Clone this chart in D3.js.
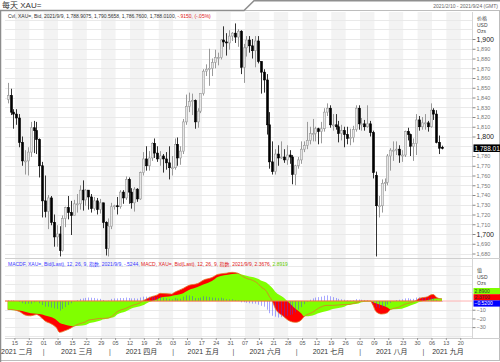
<!DOCTYPE html>
<html>
<head>
<meta charset="utf-8">
<script src="https://cdn.jsdelivr.net/npm/d3@7"></script>
<style>
  body { margin: 0; background: #fff; }
  svg { display: block; font-family: "Liberation Sans", "Noto Sans CJK SC", sans-serif; }
</style>
</head>
<body>
<div id="chart"></div>
<script>

// trading calendar shown on the axis
var firstDay = "2021-02-10";
var lastDay = "2021-09-24";

// daily candles XAU= from 2021-02-10 to 2021-09-09 (weekdays)
var openP = [1838,1842,1825,
  1823,1819,1794,1775,1775, 1784,1809,1806,1797,1770, 1734,1723,1737,1712,1697, 1700,1683,1716,1727,1722,
  1719,1731,1731,1745,1735, 1745,1738,1726,1734,1725, 1732,1712,1685,1708,1728, 1729,1728,1743,1737,1756,
  1743,1732,1746,1736,1763, 1777,1770,1778,1793,1783, 1777,1780,1777,1773,1768, 1768,1792,1778,1785,1815,
  1831,1836,1837,1815,1826, 1844,1867,1869,1870,1876, 1881,1881,1899,1897,1896, 1903,1906,1902,1908,1871,
  1891,1899,1893,1888,1898, 1877,1866,1858,1812,1774, 1764,1782,1778,1779,1776, 1781,1779,1761,1770,1776,
  1787,1791,1796,1803,1803, 1808,1805,1808,1825,1829, 1812,1812,1810,1803,1806, 1802,1798,1799,1807,1829,
  1813,1813,1810,1813,1804, 1760,1729,1729,1752,1753, 1780,1786,1786,1787,1781, 1781,1805,1802,1790,1793,
  1817,1810,1814,1814,1810, 1827,1823,1794,1788.9];
var highP = [1855,1849,1828,
  1828,1823,1800,1786,1789, 1815,1816,1815,1798,1774, 1760,1740,1739,1720,1709, 1708,1719,1728,1739,1734,
  1735,1741,1750,1755,1746, 1745,1741,1738,1737,1736, 1732,1713,1716,1732,1730, 1738,1745,1745,1759,1758,
  1747,1748,1747,1764,1784, 1790,1785,1794,1798,1790, 1785,1782,1784,1790,1780, 1798,1799,1790,1818,1843,
  1845,1844,1838,1829,1844, 1869,1874,1890,1880,1889, 1886,1900,1913,1906,1909, 1907,1916,1910,1909,1895,
  1903,1903,1900,1903,1903, 1877,1869,1864,1825,1795, 1787,1791,1795,1787,1791, 1786,1781,1771,1779,1795,
  1795,1815,1810,1818,1810, 1809,1815,1829,1834,1832, 1823,1823,1816,1812,1810, 1810,1808,1811,1832,1832,
  1819,1817,1832,1816,1806, 1764,1739,1756,1757,1782, 1788,1795,1795,1791,1786, 1806,1809,1803,1798,1823,
  1821,1820,1823,1816,1834, 1829,1827,1801,1790.6];
var lowP = [1834,1822,1808,
  1812,1789,1770,1761,1760, 1779,1783,1782,1758,1717, 1717,1705,1709,1687,1687, 1677,1682,1707,1715,1699,
  1719,1722,1725,1724,1729, 1725,1722,1724,1720,1721, 1706,1678,1677,1705,1725, 1720,1726,1731,1735,1731,
  1726,1723,1733,1735,1760, 1765,1765,1775,1778,1774, 1770,1763,1766,1756,1760, 1766,1770,1771,1782,1812,
  1825,1822,1808,1809,1824, 1842,1862,1852,1862,1870, 1873,1879,1892,1883,1889, 1898,1896,1892,1864,1855,
  1882,1886,1880,1871,1875, 1844,1845,1802,1767,1761, 1761,1770,1777,1773,1771, 1772,1751,1750,1767,1772,
  1784,1787,1792,1795,1795, 1792,1793,1805,1821,1809, 1806,1807,1794,1796,1789, 1792,1791,1794,1805,1807,
  1806,1806,1809,1800,1757, 1677,1717,1722,1744,1750, 1765,1775,1781,1773,1774, 1779,1796,1780,1775,1781,
  1806,1807,1807,1805,1809, 1817,1793,1782,1786.8];
var closeP = [1842,1825,1823,
  1819,1794,1775,1775,1784, 1809,1806,1797,1770,1734, 1723,1737,1712,1697,1700, 1683,1716,1727,1722,1719,
  1731,1731,1745,1735,1745, 1738,1726,1734,1725,1732, 1712,1685,1708,1728,1729, 1728,1743,1737,1756,1743,
  1732,1746,1736,1763,1777, 1770,1778,1793,1783,1777, 1780,1777,1773,1768,1768, 1792,1778,1785,1815,1831,
  1836,1837,1815,1826,1844, 1867,1869,1870,1876,1881, 1881,1899,1897,1896,1903, 1906,1902,1908,1871,1891,
  1899,1893,1888,1898,1877, 1866,1858,1812,1774,1764, 1782,1778,1779,1776,1781, 1779,1761,1770,1776,1787,
  1791,1796,1803,1803,1808, 1805,1808,1825,1829,1812, 1812,1810,1803,1806,1802, 1798,1799,1807,1829,1813,
  1813,1810,1813,1804,1763, 1729,1729,1752,1753,1780, 1786,1786,1787,1781,1781, 1805,1802,1790,1793,1817,
  1810,1814,1814,1810,1827, 1823,1794,1788,1788.01];

// MACDF histogram, one bar per candle
var histVals = [0.8,0.6,0.6,
  0.0,-1.0,-2.5,-3.5,-3.0, -3.0,-1.5,-0.5,-2.5,-4.5, -6.5,-6.5,-7.5,-8.5,-9, -11,-9,-7,-4.5,-2.5,
  -0.5,1.0,2.5,3.0,3.6, 4.0,3.8,3.5,2.8,2.5, 1.2,-0.3,0.5,2.5,3.0, 3.0,3.5,3.4,4.0,3.5,
  3.0,3.2,2.8,4.0,5.0, 5.0,5.0,5.2,5.0,4.5, 5.0,4.0,3.2,2.5,2.0, 3.5,2.6,2.7,5.0,6.5,
  6.4,5.7,3.5,3.4,4.0, 5.5,5.2,4.7,4.0,3.8, 3.2,3.8,3.0,2.2,2.0, 2.0,1.2,0.8,-1.5,-1.5,
  -2.0,-2.5,-3.0,-3.0,-4.2, -5.5,-6.5,-10,-14,-17, -18,-19,-18.5,-18,-17, -16,-15.5,-13,-10,-7,
  -3.5,-1,1.5,3.0,4.0, 4.5,5.0,6.0,6.5,5.5, 4.5,3.5,2.5,2.0,1.5, 0.8,0.5,0.8,2.2,1.8,
  1.5,1.2,1.0,0.5,-3.0, -7.0,-8.0,-7.5,-6.5,-4.0, -2.0,-0.5,1.0,1.5,2.0, 3.0,3.2,2.5,2.5,4.0,
  4.2,4.0,3.8,3.2,4.0, 3.5,1.2,-0.2,-0.52];

// MACD (12,26) and signal (9)
var macdDates = ["2021-02-10","2021-02-12","2021-02-16","2021-02-18","2021-02-22","2021-02-24","2021-02-26",
  "2021-03-01","2021-03-03","2021-03-05","2021-03-08","2021-03-10","2021-03-12","2021-03-15","2021-03-17",
  "2021-03-19","2021-03-22","2021-03-24","2021-03-26","2021-03-29","2021-03-31","2021-04-02","2021-04-05",
  "2021-04-08","2021-04-12","2021-04-15","2021-04-16","2021-04-19","2021-04-21","2021-04-23","2021-04-26",
  "2021-04-30","2021-05-03","2021-05-06","2021-05-10","2021-05-13","2021-05-17","2021-05-20","2021-05-24",
  "2021-05-27","2021-05-31","2021-06-02","2021-06-03","2021-06-07","2021-06-09","2021-06-11","2021-06-14",
  "2021-06-16","2021-06-17","2021-06-18","2021-06-21","2021-06-24","2021-06-28","2021-06-30","2021-07-02",
  "2021-07-05","2021-07-08","2021-07-12","2021-07-15","2021-07-19","2021-07-23","2021-07-26","2021-07-30",
  "2021-08-02","2021-08-05","2021-08-06","2021-08-09","2021-08-11","2021-08-13","2021-08-16","2021-08-19",
  "2021-08-23","2021-08-25","2021-08-27","2021-08-30","2021-09-02","2021-09-03","2021-09-06","2021-09-07",
  "2021-09-08","2021-09-09"];
var macdVals = [-9.5,-10,-12,-16,-17,-15.5,-20,
  -23,-26,-31,-36,-34,-31,-29,-26,
  -24,-22,-21,-20,-20,-19.5,-15.5,-12.5,
  -8.5,-5.5,-2,0,2,5,7,8.8,
  8,10,14.5,18,20,24,27,30.6,
  32,33,32,30,26,24,20,16.5,
  11,5,0,-8.4,-18,-23,-24.5,-22,
  -18,-13,-8.4,-5,-5,-4,-4,-1,
  0,0,-5,-12,-15,-13.5,-10,-7,
  -3.8,-2,0.5,3,5,7,7.5,4.5,
  2.8,2.37];
var signalVals = [-10.3,-10.5,-10.8,-12.2,-14,-14.6,-15.5,
  -16.5,-18.5,-22,-25,-27.2,-28.6,-29,-28.5,
  -27.6,-26,-24.5,-22.8,-21.2,-20,-18.5,-15.5,
  -12,-8.5,-6,-5,-3,-0.2,2,3.8,
  5.8,6.5,9,12.6,16,19,23,27.5,
  30,31,31.5,30.8,29,27.5,25.5,23.5,
  21,18,15,10.7,3.8,-2.7,-9,-14,
  -17.5,-16.5,-14,-11.5,-9.2,-6.5,-4.8,-2.8,
  -1.5,-0.5,-1,-2.7,-5,-7.5,-9.6,-9.3,
  -7.7,-5.2,-2.8,-1.2,1,1.8,2.6,2.9,
  3,2.89];

// axis labels (1,790 sits under the last-price box, so it is left out)
var priceTicks = [1680,1690,1700,1710,1720,1730,1740,1750,1760,1770,1780,1800,
  1810,1820,1830,1840,1850,1860,1870,1880,1890,1900];
var macdTicks = [-30,-20,-10];
var monthNames = ["一月","二月","三月","四月","五月","六月","七月","八月","九月"];

var svgWidth = 500, svgHeight = 362;
var plotLeft = 5, plotRight = 472.5;
var mainTop = 12, mainBottom = 258;
var macdTop = 259, macdBottom = 338;

var svg = d3.select("#chart").append("svg")
  .attr("width", svgWidth)
  .attr("height", svgHeight);

// trading days (weekdays) between first and last day
var parseDay = d3.timeParse("%Y-%m-%d");
var keyFmt = d3.timeFormat("%Y-%m-%d");
var allDays = d3.timeDay.range(parseDay(firstDay), d3.timeDay.offset(parseDay(lastDay), 1))
  .filter(d => d.getDay() != 0 && d.getDay() != 6);
var dayKeys = allDays.map(keyFmt);
var dataKeys = dayKeys.slice(0, closeP.length);

var xScale = d3.scaleBand().domain(dayKeys).range([6.3, 475.1]);
var bw = xScale.bandwidth();
var xc = k => xScale(k) + bw / 2;

var yPrice = d3.scaleLinear().domain([1675.4, 1927.7]).range([mainBottom, mainTop]);
var yMacd = d3.scaleLinear().domain([-42.5, 48.3]).range([macdBottom, macdTop]);

svg.append("defs").append("clipPath").attr("id", "plotClip")
  .append("rect").attr("x", plotLeft).attr("y", 0).attr("width", plotRight - plotLeft).attr("height", svgHeight);

// weeks for the alternating background
var weeks = d3.groups(allDays, d => +d3.timeMonday.floor(d)).map(g => g[1]);

var bg = svg.append("g").attr("clip-path", "url(#plotClip)");
weeks.forEach(function(w, i) {
  if (i % 2 == 1) {
    var x0 = xScale(keyFmt(w[0]));
    var x1 = xScale(keyFmt(w[w.length - 1])) + bw;
    [[mainTop, mainBottom], [macdTop, macdBottom]].forEach(function(p) {
      bg.append("rect")
        .attr("x", x0).attr("y", p[0])
        .attr("width", x1 - x0).attr("height", p[1] - p[0])
        .attr("fill", "#f3f3f3");
    });
  }
});

// horizontal gridlines
d3.range(1680, 1921, 10).forEach(function(t) {
  bg.append("line")
    .attr("x1", plotLeft).attr("x2", plotRight)
    .attr("y1", Math.round(yPrice(t)) + 0.5).attr("y2", Math.round(yPrice(t)) + 0.5)
    .attr("stroke", "#e9e9e9");
});
[-40, -30, -20, -10, 10, 20, 30, 40].forEach(function(t) {
  bg.append("line")
    .attr("x1", plotLeft).attr("x2", plotRight)
    .attr("y1", Math.round(yMacd(t)) + 0.5).attr("y2", Math.round(yMacd(t)) + 0.5)
    .attr("stroke", "#e9e9e9");
});

// frame pieces
svg.append("rect").attr("x", 0.5).attr("y", 10.5).attr("width", 499).attr("height", 350)
  .attr("fill", "none").attr("stroke", "#bdbdbd");
svg.append("line").attr("x1", 0.5).attr("x2", 0.5).attr("y1", 10).attr("y2", 362)
  .attr("stroke", "#8c8c8c").attr("stroke-width", 1.5);
svg.append("path").attr("d", "M0,10.5 L244,10.5 L254,0.8 L500,0.8")
  .attr("fill", "none").attr("stroke", "#8f8f8f").attr("stroke-width", 1.6);
svg.append("line").attr("x1", plotLeft).attr("x2", 500)
  .attr("y1", mainBottom + 0.5).attr("y2", mainBottom + 0.5).attr("stroke", "#cfcfcf");
svg.append("line").attr("x1", plotLeft).attr("x2", 500)
  .attr("y1", macdBottom + 0.5).attr("y2", macdBottom + 0.5).attr("stroke", "#cfcfcf");
svg.append("line").attr("x1", plotRight).attr("x2", plotRight)
  .attr("y1", mainTop).attr("y2", macdBottom).attr("stroke", "#d6d6d6");

// candlesticks
var candles = svg.append("g").attr("clip-path", "url(#plotClip)");
var cData = dataKeys.map((k, i) => ({k: k, o: openP[i], h: highP[i], l: lowP[i], c: closeP[i]}));

candles.selectAll(".wick").data(cData).enter().append("line")
  .attr("x1", d => Math.round(xc(d.k)) + 0.5)
  .attr("x2", d => Math.round(xc(d.k)) + 0.5)
  .attr("y1", d => yPrice(d.h))
  .attr("y2", d => yPrice(d.l))
  .attr("stroke", d => d.c >= d.o ? "#9a9a9a" : "#333")
  .attr("stroke-width", 1);

candles.selectAll(".body").data(cData).enter().append("rect")
  .attr("x", d => Math.round(xc(d.k)) - 0.5)
  .attr("width", 2)
  .attr("y", d => yPrice(Math.max(d.o, d.c)))
  .attr("height", d => Math.max(1, Math.abs(yPrice(d.o) - yPrice(d.c))))
  .attr("fill", d => d.c >= d.o ? "#e6e6e6" : "#000")
  .attr("stroke", d => d.c >= d.o ? "#999" : "#000")
  .attr("stroke-width", 0.6);

// MACD panel: red = 0..MACD, green = 0..signal on top
var mData = macdDates.map((k, i) => ({k: k, m: macdVals[i], s: signalVals[i]}));
var macdPanel = svg.append("g").attr("clip-path", "url(#plotClip)");

macdPanel.append("line")
  .attr("x1", plotLeft).attr("x2", 500)
  .attr("y1", yMacd(0)).attr("y2", yMacd(0))
  .attr("stroke", "#ffb3b3").attr("stroke-width", 1);

macdPanel.append("path").datum(mData)
  .attr("fill", "#ff0000")
  .attr("d", d3.area().curve(d3.curveMonotoneX)
    .x(d => xc(d.k)).y0(yMacd(0)).y1(d => yMacd(d.m)));

macdPanel.append("path").datum(mData)
  .attr("fill", "#80ff00")
  .attr("d", d3.area().curve(d3.curveMonotoneX)
    .x(d => xc(d.k)).y0(yMacd(0)).y1(d => yMacd(d.s)));

macdPanel.selectAll(".hist").data(dataKeys).enter().append("rect")
  .attr("x", k => Math.round(xc(k)))
  .attr("width", 1)
  .attr("y", (k, i) => yMacd(Math.max(0, histVals[i])))
  .attr("height", (k, i) => Math.abs(yMacd(histVals[i]) - yMacd(0)))
  .attr("fill", "rgba(60,60,255,0.45)");

macdPanel.append("path").datum(mData)
  .attr("fill", "none")
  .attr("stroke", "#e0782a")
  .attr("stroke-width", 0.8)
  .attr("d", d3.line().curve(d3.curveMonotoneX).x(d => xc(d.k)).y(d => yMacd(d.m)));

macdPanel.append("line")
  .attr("x1", plotLeft).attr("x2", xc(dataKeys[dataKeys.length - 1]))
  .attr("y1", yMacd(0)).attr("y2", yMacd(0))
  .attr("stroke", "#f07a3a").attr("stroke-width", 1);

// right price axis
var priceAxis = svg.append("g")
  .attr("transform", `translate(${plotRight}, 0)`)
  .call(d3.axisRight(yPrice).tickValues(priceTicks).tickSize(3).tickPadding(1).tickFormat(d3.format(",")));
priceAxis.select(".domain").remove();
priceAxis.selectAll(".tick line").attr("stroke", "#888");
priceAxis.selectAll(".tick text")
  .attr("fill", d => d % 100 == 0 ? "#222" : "#777")
  .style("font-size", d => d % 100 == 0 ? "7px" : "5.5px");

[["价格", 20], ["USD", 26.5], ["Ozs", 33]].forEach(function(t) {
  svg.append("text").attr("x", 477).attr("y", t[1]).text(t[0])
    .style("font-size", "5px").attr("fill", "#444");
});

// last price marker
var lastClose = closeP[closeP.length - 1];
svg.append("rect").attr("x", plotRight + 1).attr("y", yPrice(lastClose) - 3.8)
  .attr("width", 27).attr("height", 7.6).attr("fill", "#000");
svg.append("text").attr("x", plotRight + 2).attr("y", yPrice(lastClose) + 2.3)
  .text(d3.format(",.2f")(lastClose))
  .style("font-size", "6.5px").attr("fill", "#fff");

// right MACD axis
var macdAxis = svg.append("g")
  .attr("transform", `translate(${plotRight}, 0)`)
  .call(d3.axisRight(yMacd).tickValues(macdTicks).tickSize(3).tickPadding(1));
macdAxis.select(".domain").remove();
macdAxis.selectAll(".tick line").attr("stroke", "#888");
macdAxis.selectAll(".tick text").attr("fill", "#777").style("font-size", "5.5px");

[["值", 272], ["USD", 278.5], ["Ozs", 285]].forEach(function(t) {
  svg.append("text").attr("x", 477).attr("y", t[1]).text(t[0])
    .style("font-size", "5px").attr("fill", "#444");
});

var lastM = macdVals[macdVals.length - 1];
var lastS = signalVals[signalVals.length - 1];
var lastH = histVals[histVals.length - 1];
[[lastS, "#80ff00", "#333", 288], [lastM, "#ff0000", "#333", 294.2], [lastH, "#0000ff", "#fff", 300.4]]
  .forEach(function(b) {
    svg.append("rect").attr("x", plotRight + 1).attr("y", b[3])
      .attr("width", 27).attr("height", 6.2).attr("fill", b[1]);
    svg.append("text").attr("x", plotRight + 2).attr("y", b[3] + 5)
      .text(d3.format(".4f")(b[0]).replace(/^(-?)0\./, "$1."))
      .style("font-size", "5px").attr("fill", b[2]);
  });

// bottom date axis, ticks on Mondays at the start of each week
var mondays = dayKeys.filter((k, i) => allDays[i].getDay() == 1);
var xAxis = svg.append("g")
  .attr("transform", `translate(${-bw / 2}, ${macdBottom})`)
  .call(d3.axisBottom(xScale).tickValues(mondays).tickSize(2).tickPadding(1).tickFormat(k => k.slice(8)));
xAxis.select(".domain").remove();
xAxis.selectAll(".tick line").attr("stroke", "#999");
xAxis.selectAll(".tick text").attr("fill", "#555").style("font-size", "5.5px");

// month labels and separators
var months = d3.groups(allDays, d => d.getMonth());
months.forEach(function(g, i) {
  var ks = g[1].map(keyFmt);
  var x0 = xScale(ks[0]);
  var x1 = Math.min(plotRight, xScale(ks[ks.length - 1]) + bw);
  var label = "2021 " + monthNames[g[0]];
  var t = svg.append("text").attr("y", 354).text(label)
    .style("font-size", "7px").attr("fill", "#333");
  if (i == 0) {
    t.attr("x", 1);
  } else {
    t.attr("x", (x0 + x1) / 2).attr("text-anchor", "middle");
    svg.append("text").attr("x", x0).attr("y", 353.5).attr("text-anchor", "middle")
      .text("|").style("font-size", "7px").attr("fill", "#555");
  }
});

// titles and legends
svg.append("text").attr("x", 2).attr("y", 8).text("每天 XAU=")
  .style("font-size", "8px").attr("fill", "#333");
svg.append("text").attr("x", 498).attr("y", 8).attr("text-anchor", "end")
  .text("2021/2/10 - 2021/9/24 (GMT)")
  .style("font-size", "5px").attr("fill", "#666");

var leg = svg.append("text").attr("x", 8).attr("y", 17.5).style("font-size", "5px");
leg.append("tspan").attr("fill", "#333")
  .text("Cvl, XAU=, Bid, 2021/9/9, 1,788.9075, 1,790.5658, 1,786.7600, 1,788.0100, ");
leg.append("tspan").attr("fill", "#e02020").text("-.9150, (-.05%)");

var leg2 = svg.append("text").attr("x", 8).attr("y", 266).style("font-size", "5px");
leg2.append("tspan").attr("fill", "#3a3aff")
  .text("MACDF, XAU=, Bid(Last), 12, 26, 9, 指数, 2021/9/9, -.5244, ");
leg2.append("tspan").attr("fill", "#e02020")
  .text("MACD, XAU=, Bid(Last), 12, 26, 9, 指数, 2021/9/9, 2.3676, ");
leg2.append("tspan").attr("fill", "#66cc00").text("2.8919");

</script>
</body>
</html>
